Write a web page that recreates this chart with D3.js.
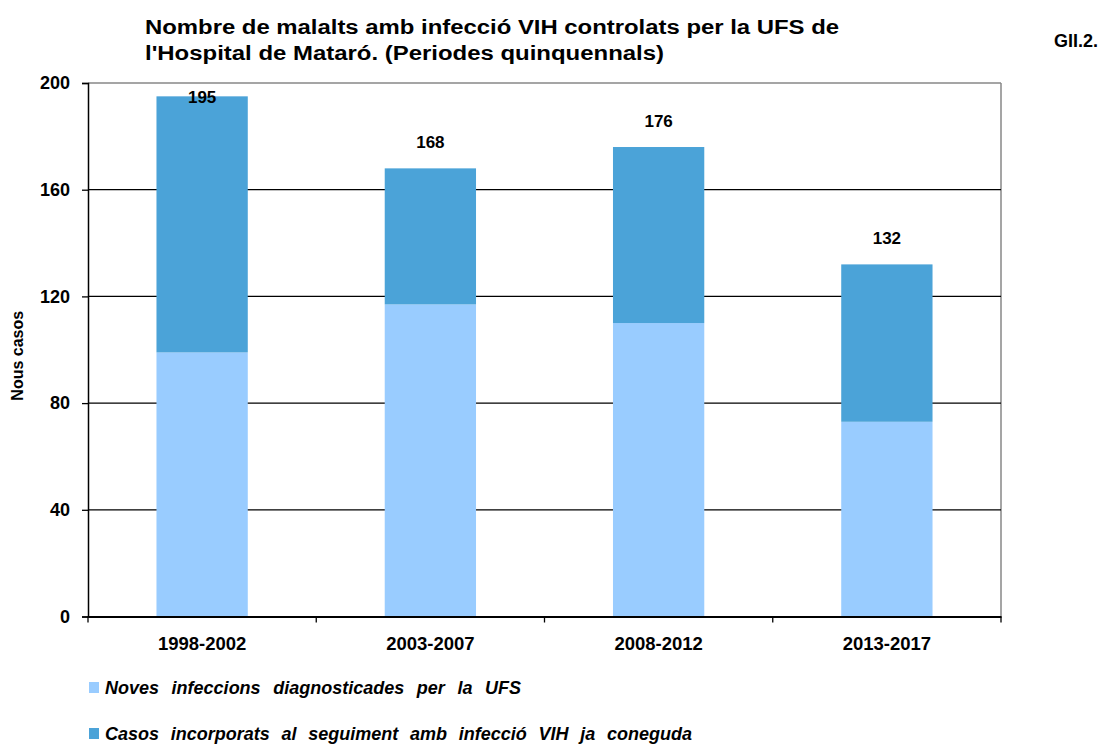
<!DOCTYPE html>
<html>
<head>
<meta charset="utf-8">
<script src="https://cdn.jsdelivr.net/npm/d3@7"></script>
<style>
  body { margin: 0; background: #fff; }
  svg { display: block; font-family: "Liberation Sans", Arial, sans-serif; }
</style>
</head>
<body>
<div id="chart"></div>
<script>
const periods = ["1998-2002", "2003-2007", "2008-2012", "2013-2017"];
const noves = [99, 117, 110, 73];
const casos = [96, 51, 66, 59];
const totals = [195, 168, 176, 132];
const yTicks = [0, 40, 80, 120, 160, 200];
const seriesNames = [
  "Noves infeccions diagnosticades per la UFS",
  "Casos incorporats al seguiment amb infecció VIH ja coneguda",
];
const colors = ["#99ccff", "#4ba3d8"];

const W = 1104, H = 744;
const margin = { top: 83, right: 103, bottom: 127.5, left: 88 };
const plotW = W - margin.left - margin.right;
const plotH = H - margin.top - margin.bottom;

const svg = d3.select("#chart").append("svg")
  .attr("width", W)
  .attr("height", H);

// title
const title = svg.append("g").attr("font-weight", "bold").attr("font-size", 20);
title.append("text").attr("x", 145).attr("y", 34)
  .attr("textLength", 694).attr("lengthAdjust", "spacingAndGlyphs")
  .text("Nombre de malalts amb infecció VIH controlats per la UFS de");
title.append("text").attr("x", 145).attr("y", 60)
  .attr("textLength", 519).attr("lengthAdjust", "spacingAndGlyphs")
  .text("l'Hospital de Mataró. (Periodes quinquennals)");

svg.append("text")
  .attr("x", 1098).attr("y", 47)
  .attr("text-anchor", "end")
  .attr("font-weight", "bold").attr("font-size", 18)
  .text("GII.2.");

const g = svg.append("g").attr("transform", `translate(${margin.left},${margin.top})`);

const x = d3.scaleBand().domain(periods).range([0, plotW]).paddingInner(0.6).paddingOuter(0.3);
const xb = d3.scaleBand().domain(periods).range([0, plotW]);
const y = d3.scaleLinear().domain([0, 200]).range([plotH, 0]);

// frame: top and right in gray
g.append("line").attr("x1", 0).attr("x2", plotW).attr("y1", 0).attr("y2", 0)
  .attr("stroke", "#878787").attr("stroke-width", 1.5);
g.append("line").attr("x1", plotW).attr("x2", plotW).attr("y1", 0).attr("y2", plotH)
  .attr("stroke", "#878787").attr("stroke-width", 1.5);

// gridlines
g.selectAll(".grid")
  .data(yTicks.filter(d => d > 0 && d < 200))
  .join("line")
  .attr("class", "grid")
  .attr("x1", 0).attr("x2", plotW)
  .attr("y1", d => y(d)).attr("y2", d => y(d))
  .attr("stroke", "#000").attr("stroke-width", 1.3);

// stacked bars
const stack = d3.stack().keys([0, 1])((periods.map((p, i) => [noves[i], casos[i]])));
g.selectAll(".layer")
  .data(stack)
  .join("g")
  .attr("class", "layer")
  .attr("fill", (d, i) => colors[i])
  .selectAll("rect")
  .data(d => d)
  .join("rect")
  .attr("x", (d, i) => x(periods[i]))
  .attr("width", x.bandwidth())
  .attr("y", d => y(d[1]))
  .attr("height", d => y(d[0]) - y(d[1]));

// total labels
g.selectAll(".total")
  .data(totals)
  .join("text")
  .attr("class", "total")
  .attr("x", (d, i) => x(periods[i]) + x.bandwidth() / 2)
  .attr("y", d => Math.max(y(d) - 20, 20))
  .attr("text-anchor", "middle")
  .attr("font-weight", "bold").attr("font-size", 17)
  .text(d => d);

// y axis
const yAxis = g.append("g")
  .call(d3.axisLeft(y).tickValues(yTicks).tickSize(6).tickPadding(12));
yAxis.select(".domain").attr("stroke", "#000").attr("stroke-width", 1.5);
yAxis.selectAll(".tick line").attr("stroke", "#000").attr("stroke-width", 1.3);
yAxis.selectAll(".tick text")
  .attr("font-family", "Liberation Sans, Arial, sans-serif")
  .attr("font-weight", "bold").attr("font-size", 18).attr("fill", "#000");

// x axis
const xAxis = g.append("g")
  .attr("transform", `translate(0,${plotH})`)
  .call(d3.axisBottom(xb).tickSize(0).tickPadding(20));
xAxis.select(".domain").attr("stroke", "#000").attr("stroke-width", 2);
xAxis.selectAll(".tick text")
  .attr("font-family", "Liberation Sans, Arial, sans-serif")
  .attr("font-weight", "bold").attr("font-size", 18.5).attr("fill", "#000");
xAxis.selectAll(".sep")
  .data(periods.map(p => xb(p)).concat([plotW]))
  .join("line")
  .attr("class", "sep")
  .attr("x1", d => d).attr("x2", d => d)
  .attr("y1", 0).attr("y2", 6)
  .attr("stroke", "#000").attr("stroke-width", 1.3);

// y axis title
svg.append("text")
  .attr("transform", `translate(23,${margin.top + plotH / 2 + 6}) rotate(-90)`)
  .attr("text-anchor", "middle")
  .attr("font-weight", "bold").attr("font-size", 16)
  .text("Nous casos");

// legend
const legendW = [416, 587];
const legend = svg.selectAll(".legend")
  .data(seriesNames)
  .join("g")
  .attr("class", "legend")
  .attr("transform", (d, i) => `translate(89,${694 + i * 46})`);
legend.append("rect")
  .attr("x", 0).attr("y", -12)
  .attr("width", 10).attr("height", 11)
  .attr("fill", (d, i) => colors[i]);
legend.append("text")
  .attr("x", 16).attr("y", 0)
  .attr("font-weight", "bold").attr("font-style", "italic").attr("font-size", 18)
  .text(d => d)
  .each(function (d, i) {
    const natural = this.getComputedTextLength();
    const spaces = d.split(" ").length - 1;
    const extra = Math.max(0, (legendW[i] - natural) / spaces);
    d3.select(this).attr("word-spacing", extra);
  });
</script>
</body>
</html>
